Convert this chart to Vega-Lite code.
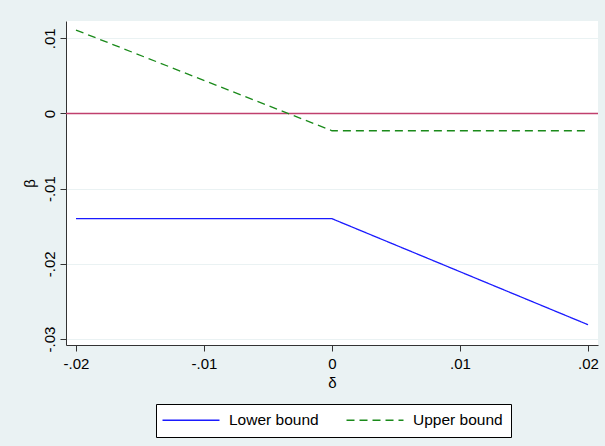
{
  "$schema": "https://vega.github.io/schema/vega-lite/v6.json",
  "autosize": {"type": "none"},
  "width": 532,
  "height": 324,
  "padding": {"left": 66, "top": 21, "right": 7, "bottom": 101},
  "background": "#eaf2f3",
  "config": {
    "view": {"fill": "white", "stroke": null},
    "font": "Liberation Sans"
  },
  "datasets": {
    "bounds": [
      {"delta": -0.02, "beta": -0.0140, "series": "Lower bound"},
      {"delta": 0.0, "beta": -0.0140, "series": "Lower bound"},
      {"delta": 0.02, "beta": -0.0281, "series": "Lower bound"},
      {"delta": -0.02, "beta": 0.0111, "series": "Upper bound"},
      {"delta": 0.0, "beta": -0.0023, "series": "Upper bound"},
      {"delta": 0.02, "beta": -0.0023, "series": "Upper bound"}
    ],
    "zero": [{"y": 0}]
  },
  "layer": [
    {
      "data": {"name": "zero"},
      "mark": {"type": "rule", "color": "#c0406e", "strokeWidth": 1.5},
      "encoding": {"y": {"field": "y", "type": "quantitative", "scale": {"domain": [-0.0308, 0.0123], "nice": false, "zero": false}}}
    },
    {
      "data": {"name": "bounds"},
      "mark": {"type": "line", "strokeWidth": 1.3},
      "encoding": {
        "x": {
          "field": "delta", "type": "quantitative",
          "scale": {"domain": [-0.02078, 0.02078], "nice": false, "zero": false},
          "axis": {
            "values": [-0.02, -0.01, 0, 0.01, 0.02],
            "labelExpr": "datum.value == 0 ? '0' : replace(replace(format(datum.value, '.2f'), '0.', '.'), '\u2212', '-')",
            "title": "δ",
            "titleFontSize": 15, "titleFontWeight": "normal", "titleColor": "black", "titlePadding": 4,
            "labelFontSize": 15, "labelColor": "black", "labelPadding": 5,
            "tickSize": 6, "tickColor": "#333", "domainColor": "#333",
            "grid": false
          }
        },
        "y": {
          "field": "beta", "type": "quantitative",
          "scale": {"domain": [-0.0308, 0.0123], "nice": false, "zero": false},
          "axis": {
            "values": [-0.03, -0.02, -0.01, 0, 0.01],
            "labelExpr": "datum.value == 0 ? '0' : replace(replace(format(datum.value, '.2f'), '0.', '.'), '\u2212', '-')",
            "title": "β",
            "titleFontSize": 15, "titleFontWeight": "normal", "titleColor": "black", "titlePadding": 5,
            "labelFontSize": 15, "labelColor": "black", "labelAngle": 270, "labelAlign": "center", "labelBaseline": "bottom", "labelPadding": 3,
            "tickSize": 6, "tickColor": "#333", "domainColor": "#333",
            "grid": true, "gridColor": "#eaf2f3", "gridWidth": 1
          }
        },
        "color": {
          "field": "series", "type": "nominal",
          "scale": {"domain": ["Lower bound", "Upper bound"], "range": ["#1a1aff", "#1a8a1a"]},
          "legend": {
            "title": null, "orient": "none", "legendX": 90, "legendY": 383,
            "direction": "horizontal", "symbolType": "M-4.07,0H4.07", "symbolSize": 196, "symbolStrokeWidth": 1.5, "symbolOffset": 19,
            "labelFontSize": 15.5, "labelColor": "black", "labelOffset": 30, "columnPadding": 24,
            "strokeColor": "black", "fillColor": "white", "padding": 8
          }
        },
        "strokeDash": {
          "field": "series", "type": "nominal",
          "scale": {"domain": ["Lower bound", "Upper bound"], "range": [[1, 0], [8, 5]]},
          "legend": {
            "title": null, "orient": "none", "legendX": 90, "legendY": 383,
            "direction": "horizontal", "symbolType": "M-4.07,0H4.07", "symbolSize": 196, "symbolStrokeWidth": 1.5, "symbolOffset": 19,
            "labelFontSize": 15.5, "labelColor": "black", "labelOffset": 30, "columnPadding": 24,
            "strokeColor": "black", "fillColor": "white", "padding": 8
          }
        }
      }
    }
  ]
}
